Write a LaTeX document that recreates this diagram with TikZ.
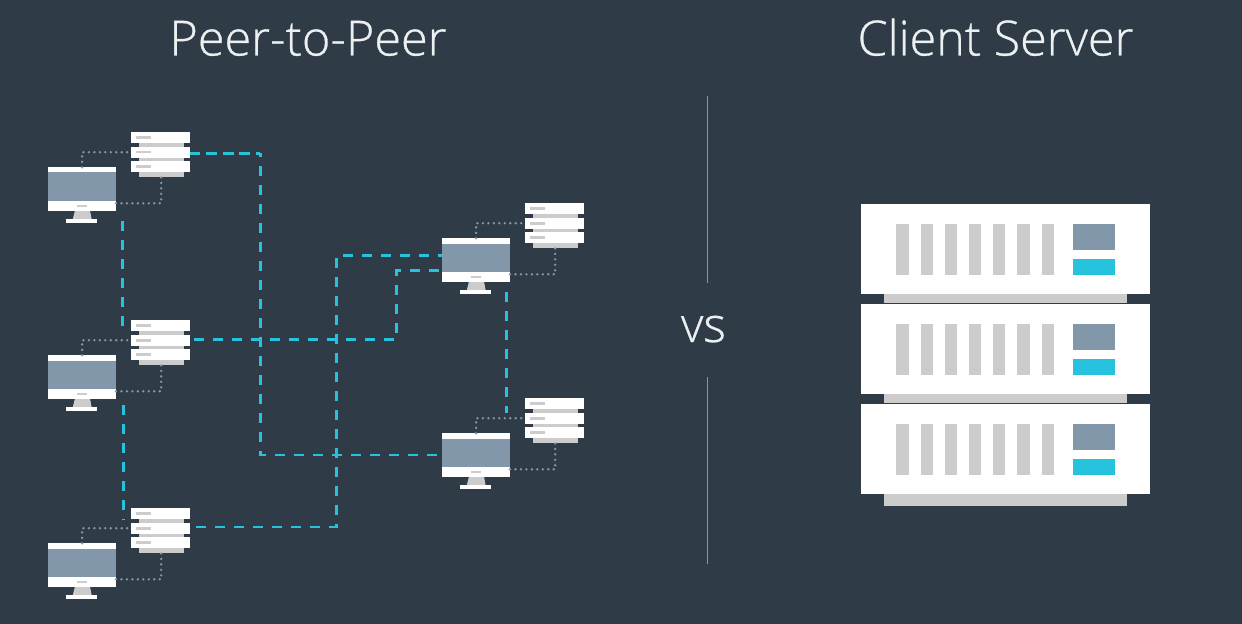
\documentclass[tikz,border=0pt]{standalone}
\usepackage{fontspec}
\setmainfont{Open Sans Light}[RawFeature={embolden=0.6}]
\definecolor{bgc}{HTML}{2F3B47}
\definecolor{slate}{HTML}{8397AA}
\definecolor{cyanc}{HTML}{27C2DE}
\definecolor{greyc}{HTML}{CCCCCC}
\definecolor{titlec}{HTML}{ECF0F1}
\newcommand\rectnode[6]{\node[#2,minimum width={(#5-#3)*0.75pt},minimum height={(#6-#4)*0.75pt}] (#1) at ({(#3+#5)/2},{(#4+#6)/2}) {};}
\tikzset{
  x=0.75pt,y=-0.75pt,
  solid box/.style={inner sep=0pt,outer sep=0pt,draw=none,rectangle},
  whitebox/.style={solid box,fill=white},
  greybox/.style={solid box,fill=greyc},
  slatebox/.style={solid box,fill=slate},
  cyanbox/.style={solid box,fill=cyanc},
  dotline/.style={draw=slate,line width=2pt,line cap=round,dash pattern=on 0pt off 4.1pt},
  dashline/.style={draw=cyanc,line width=1.9pt,dash pattern=on 7.5pt off 6.75pt},
  dashshort/.style={draw=cyanc,line width=1.9pt,dash pattern=on 8.25pt off 4.25pt},
  divider/.style={draw=slate,line width=1.1pt},
  titletext/.style={text=titlec,font=\fontsize{36.4}{36.4}\selectfont,inner sep=0pt,anchor=base},
  peer/.pic={
    % server
    \rectnode{bA}{greybox}{138.7}{143}{183.7}{147}
    \rectnode{bB}{greybox}{138.7}{157.5}{183.7}{161}
    \rectnode{bC}{greybox}{138.7}{172}{183.7}{176.7}
    \rectnode{sA}{whitebox}{131.3}{132}{190}{143.3}
    \rectnode{sB}{whitebox}{131.3}{146.7}{190}{157.7}
    \rectnode{sC}{whitebox}{131.3}{160.7}{190}{172.3}
    \rectnode{gA}{greybox}{136}{136}{151.3}{139}
    \rectnode{gB}{greybox}{136}{150.7}{151.3}{153.5}
    \rectnode{gC}{greybox}{136}{165}{151.3}{167.8}
    % monitor
    \fill[greyc] (75,210.5) -- (90,210.5) -- (91.7,219.5) -- (72.7,219.5) -- cycle;
    \rectnode{foot}{whitebox}{66}{219.3}{97.3}{222.7}
    \rectnode{mon}{whitebox}{48.3}{167.3}{116}{210.7}
    \rectnode{scr}{slatebox}{48.3}{172.5}{116}{201}
    \rectnode{btn}{greybox}{76.7}{204.7}{87.3}{207.4}
    % links
    \draw[dotline] (mon.north) |- (sB.west);
    \draw[dotline] ([yshift=5.55pt]mon.south east) -| (bC.south);
  }
}
\begin{document}
\begin{tikzpicture}
\useasboundingbox (0,0) rectangle (1242,624);
\fill[bgc] (0,0) rectangle (1242,624);
\pic (pa) at (0,0) {peer};
\pic (pb) at (0,188) {peer};
\pic (pc) at (0,376) {peer};
\pic (pd) at (394,71) {peer};
\pic (pe) at (394,266) {peer};
% dashed connectors
\coordinate (ta) at (260.3,153.4);
\coordinate (tb) at (260.3,455);
\draw[dashshort,dash phase=0.4pt] (pasB.east |- ta) -- (ta);
\draw[dashline,dash phase=4.9pt] (ta) -- (tb) -- (tb -| pemon.west);
\coordinate (tc) at (396.7,339.3);
\coordinate (td) at (396.7,270.7);
\draw[dashline,dash phase=11.25pt] (pbsB.east |- tc) -- (tc) -- (td) -- (td -| pdmon.west);
\coordinate (te) at (336.7,255.3);
\coordinate (tf) at (336.7,527);
\draw[dashline,dash phase=4.1pt] (pdmon.west |- te) -- (te) -- (tf) -- (tf -| pcsB.east);
\coordinate (tg) at (122.3,221);
\draw[dashline] (tg) -- (tg |- pbsA.south) ;
\coordinate (th) at (123.3,405);
\draw[dashline] (th) -- (th |- pcsA.south);
\coordinate (ti) at (506.3,292);
\draw[dashline] (ti) -- (ti |- pesB.north);
% divider
\node[titletext] (tp) at (308,55.5) {Peer-to-Peer};
\node[titletext] (tq) at (995.5,55.5) {Client Server};
\node[titletext] (vs) at (703.5,342) {vs};
\coordinate (va) at (707.5,96);
\coordinate (vb) at (707.5,283);
\coordinate (vc) at (707.5,377);
\coordinate (vd) at (707.5,564);
\draw[divider] (va) -- (vb);
\draw[divider] (vc) -- (vd);
% large server
\foreach \n/\d in {a/0,b/100,c/200}{
  \pgfmathsetmacro\yt{204+\d}
  \pgfmathsetmacro\yb{294.3+\d}
  \pgfmathsetmacro\ybb{\yb+(\d==200 ? 12.7 : 10)}
  \rectnode{lg\n}{greybox}{883.7}{\yb-1}{1127}{\ybb}
  \rectnode{lw\n}{whitebox}{861.4}{\yt}{1149.8}{\yb}
  \foreach \k in {0,...,6}{
    \pgfmathsetmacro\xl{896.3+24.2*\k}
    \pgfmathsetmacro\xr{\xl+12.3}
    \pgfmathsetmacro\ya{224.3+\d}
    \pgfmathsetmacro\yz{275+\d}
    \rectnode{lb\n\k}{greybox}{\xl}{\ya}{\xr}{\yz}
  }
  \pgfmathsetmacro\ya{224.3+\d}
  \pgfmathsetmacro\yy{249.7+\d}
  \pgfmathsetmacro\yk{259.3+\d}
  \pgfmathsetmacro\yz{275+\d}
  \rectnode{ls\n}{slatebox}{1073}{\ya}{1114.7}{\yy}
  \rectnode{lc\n}{cyanbox}{1073}{\yk}{1114.7}{\yz}
}
\end{tikzpicture}
\end{document}
